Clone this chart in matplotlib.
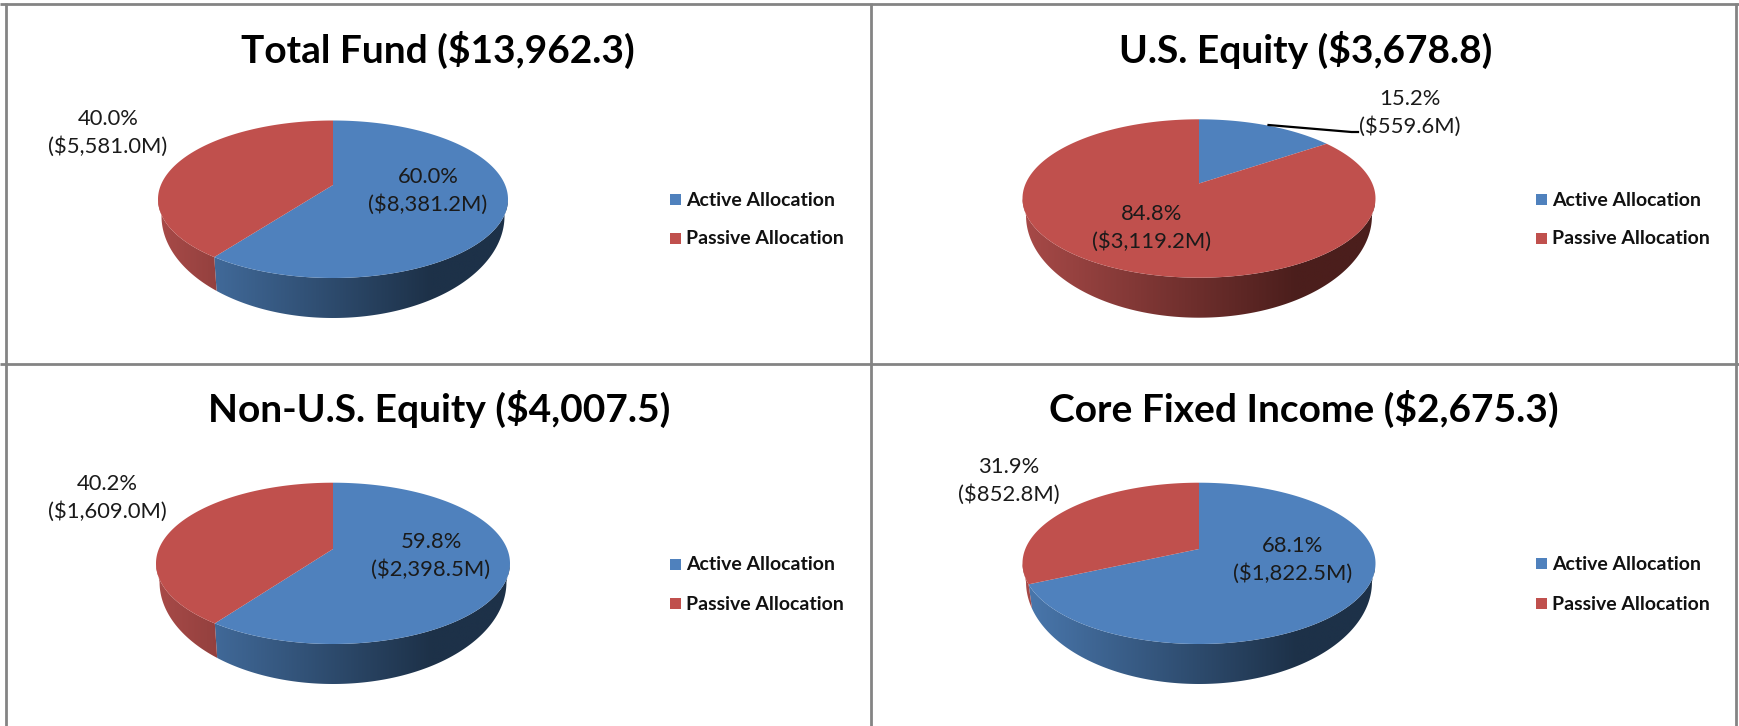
import numpy as np
import matplotlib
matplotlib.use("Agg")
import matplotlib.pyplot as plt
from matplotlib.colors import LinearSegmentedColormap
from matplotlib.patches import Polygon, Rectangle

plt.rcParams['font.family'] = ['Lato', 'DejaVu Sans']

titles = ['Total Fund ($13,962.3)', 'U.S. Equity ($3,678.8)',
          'Non-U.S. Equity ($4,007.5)', 'Core Fixed Income ($2,675.3)']
active_values = [8381.2, 559.6, 2398.5, 1822.5]
passive_values = [5581.0, 3119.2, 1609.0, 852.8]
active_pct = [60.0, 15.2, 59.8, 68.1]
passive_pct = [40.0, 84.8, 40.2, 31.9]
legend_labels = ['Active Allocation', 'Passive Allocation']

BLUE = '#4f81bd'
RED = '#c0504d'
blue_side = LinearSegmentedColormap.from_list('b', [(0, '#4a78ae'), (0.78, '#1d3148'), (1, '#1d3148')])
red_side = LinearSegmentedColormap.from_list('r', [(0, '#a84a48'), (0.78, '#4b1e1c'), (1, '#4b1e1c')])
FRAME = '#848484'

# layout per panel, pixels
pie_cx = [333, 1199, 333, 1199]
pie_rx = [175, 176.5, 177, 176.5]
pie_top = [120.5, 119.3, 482.7, 482.7]
pie_bot = [278, 277.7, 644, 644]
pie_apex = [185, 183.5, 549, 549]
DEPTH = 40
BOTTOM_RY = 102
title_xy = [(438, 50), (1306, 50), (439, 409), (1304, 409)]
active_xy = [(428, 191), (1410, 113), (431, 556), (1293, 560)]
passive_xy = [(108, 133), (1152, 228), (107, 498), (1009, 481)]
legend_x = [670, 1536, 670, 1536]
legend_y = [(199, 238), (199, 238), (564, 603), (563, 603)]


def project(frac, cx, apex, up, down, kx):
    # clockwise from 12 o'clock, disc seen in perspective
    c = (down - up) / (down + up)
    k = up * (1 + c)
    th = 2 * np.pi * np.asarray(frac)
    X, Y = np.sin(th), np.cos(th)
    w = 1 + c * Y
    return cx + kx * X / w, apex - k * Y / w


fig = plt.figure(figsize=(17.4, 7.26), dpi=100)
ax = fig.add_axes([0, 0, 1, 1])
ax.set_xlim(0, 1740)
ax.set_ylim(726, 0)
ax.axis('off')

gradient = np.linspace(0, 1, 256).reshape(1, -1)

for i in range(4):
    total = active_values[i] + passive_values[i]
    split = active_values[i] / total
    up = pie_apex[i] - pie_top[i]
    down = pie_bot[i] - pie_apex[i]
    c = (down - up) / (down + up)
    kx = pie_rx[i] * np.sqrt(1 - c ** 2)
    cx = pie_cx[i]
    x0 = cx - pie_rx[i]
    x1 = cx + pie_rx[i]

    # lower rim is a rounder ellipse than the top face
    up_b = BOTTOM_RY * (1 - c)
    down_b = BOTTOM_RY * (1 + c)
    apex_b = pie_bot[i] + DEPTH - down_b

    # only the front of the wall shows, between the two widest points
    front = np.arccos(-c) / (2 * np.pi)

    slices = [(0, split, BLUE, blue_side), (split, 1, RED, red_side)]
    for start, end, col, cmap in slices:
        wall_start = max(start, front)
        wall_end = min(end, 1 - front)
        if wall_end <= wall_start:
            continue
        f = np.linspace(wall_start, wall_end, 200)
        tx, ty = project(f, cx, pie_apex[i], up, down, kx)
        bx, by = project(f[::-1], cx, apex_b, up_b, down_b, kx * 0.98)
        side = Polygon(np.column_stack([np.r_[tx, bx], np.r_[ty, by]]), closed=True,
                       fc='none', ec='none', transform=ax.transData)
        ax.add_patch(side)
        im = ax.imshow(gradient, extent=[x0, x1, pie_bot[i] + DEPTH + 2, pie_top[i]], cmap=cmap,
                       vmin=0, vmax=1, aspect='auto', zorder=2)
        im.set_clip_path(side)

    for start, end, col, cmap in slices:
        f = np.linspace(start, end, 200)
        tx, ty = project(f, cx, pie_apex[i], up, down, kx)
        ax.add_patch(Polygon(np.column_stack([np.r_[cx, tx], np.r_[pie_apex[i], ty]]), closed=True,
                             fc=col, ec='none', zorder=3))

    ax.text(title_xy[i][0], title_xy[i][1], titles[i], ha='center', va='center',
            fontsize=28, fontweight='bold', color='black', zorder=5)
    ax.text(active_xy[i][0], active_xy[i][1],
            f"{active_pct[i]:.1f}%\n(${active_values[i]:,.1f}M)", ha='center', va='center',
            fontsize=15.8, color='#1a1a1a', linespacing=1.42, zorder=5)
    ax.text(passive_xy[i][0], passive_xy[i][1],
            f"{passive_pct[i]:.1f}%\n(${passive_values[i]:,.1f}M)", ha='center', va='center',
            fontsize=15.8, color='#1a1a1a', linespacing=1.42, zorder=5)

    for ly, name, col in zip(legend_y[i], legend_labels, [BLUE, RED]):
        ax.add_patch(Rectangle((legend_x[i], ly - 5.5), 11, 11, fc=col, ec='none', zorder=4))
        ax.text(legend_x[i] + 16.5, ly + 1, name, ha='left', va='center', fontsize=14,
                fontweight='bold', color='#111111', zorder=5)

# leader line for the U.S. Equity active label
ax.plot([1268.5, 1351.5, 1358], [125, 132, 132], color='black', lw=1.6, zorder=4)

# outer grid
for xs, ys in [([0, 1740], [4, 4]), ([0, 1740], [364, 364]),
               ([6, 6], [3, 726]), ([871.5, 871.5], [3, 726]), ([1736.5, 1736.5], [3, 726])]:
    ax.plot(xs, ys, color=FRAME, lw=2.0, solid_capstyle='butt', zorder=1)

fig.savefig('out.png', dpi=100)
